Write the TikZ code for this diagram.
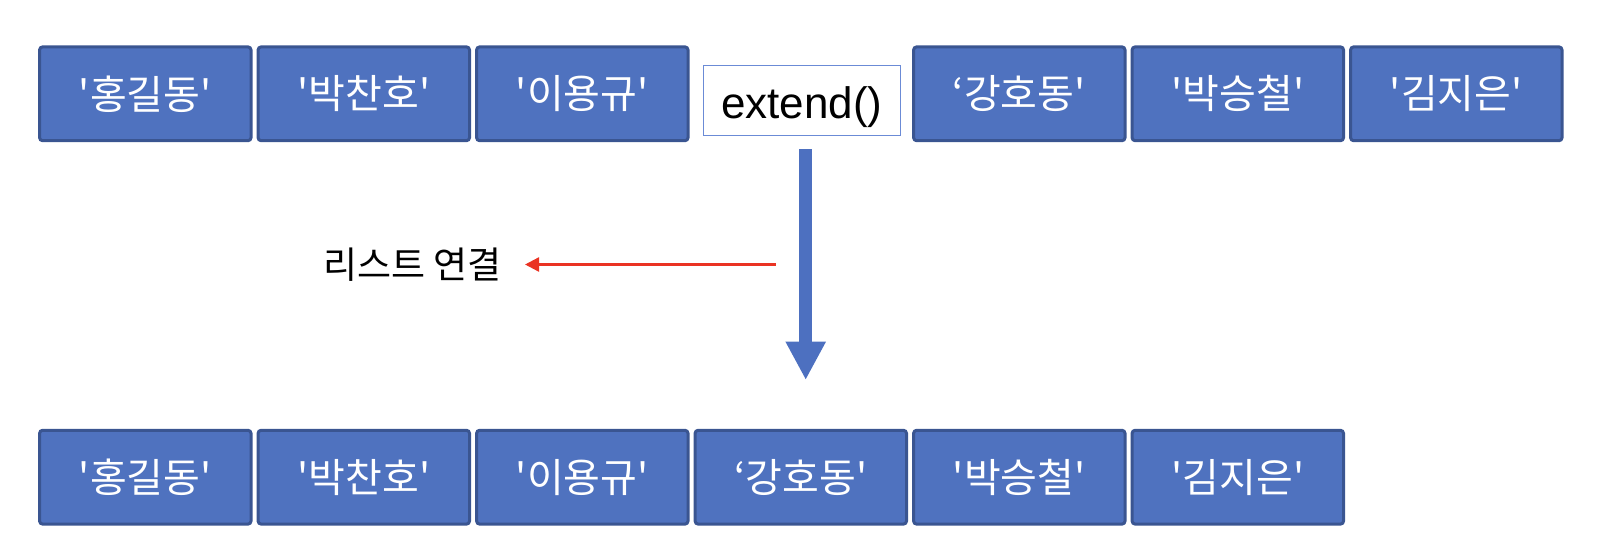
\documentclass[tikz,border=0pt]{standalone}
\usepackage{fontspec}
\setmainfont{Liberation Sans}
\newfontfamily\kr{Noto Sans CJK KR}
\usetikzlibrary{arrows.meta}
\definecolor{boxfill}{HTML}{4F72BF}
\definecolor{boxline}{HTML}{3A5591}
\definecolor{lightline}{HTML}{6B8BD6}
\definecolor{bigarrow}{HTML}{4D70C0}
\definecolor{arrowred}{HTML}{EA3323}
\begin{document}
\begin{tikzpicture}[x=0.5pt,y=-0.5pt,
  item/.style={draw=boxline, line width=1.5pt, fill=boxfill, rounded corners=1.5pt,
    minimum width=105.7pt, minimum height=46.9pt, inner sep=0pt,
    text=white, font=\kr\fontsize{20}{24}\selectfont},
  funcbox/.style={draw=lightline, line width=0.5pt, fill=white,
    minimum width=98.4pt, minimum height=35.1pt, inner sep=0pt,
    font=\fontsize{22}{26}\selectfont},
  caption/.style={font=\kr\fontsize{18.5}{22}\selectfont, text=black, inner sep=0pt},
  flow/.style={draw=bigarrow, line width=6.4pt,
    -{Triangle[length=19.2pt, width=18.8pt]}},
  link/.style={draw=arrowred, line width=1.2pt,
    -{Triangle[length=7pt, width=7pt]}}
]
\useasboundingbox (0,0) rectangle (1616,556);

% top row
\node[item] (a1) at (145.3,93.8) {'홍길동'};
\node[item] (a2) at (363.8,93.8) {'박찬호'};
\node[item] (a3) at (582.3,93.8) {'이용규'};
\node[funcbox] (ext) at (801.8,100.5) {\raisebox{-3.5pt}[\height][\depth]{extend()}};
\node[item] (b1) at (1019.3,93.8) {‘강호동'};
\node[item] (b2) at (1237.8,93.8) {'박승철'};
\node[item] (b3) at (1456.3,93.8) {'김지은'};

% bottom row
\node[item] (c1) at (145.3,477.2) {'홍길동'};
\node[item] (c2) at (363.8,477.2) {'박찬호'};
\node[item] (c3) at (582.3,477.2) {'이용규'};
\node[item] (c4) at (800.8,477.2) {‘강호동'};
\node[item] (c5) at (1019.3,477.2) {'박승철'};
\node[item] (c6) at (1237.8,477.2) {'김지은'};

% big arrow
\coordinate (flowtop) at (805.7,149.3);
\coordinate (flowtip) at (805.7,380);
\draw[flow] (flowtop) -- (flowtip);

% label and red arrow
\node[caption, anchor=east] (lbl) at (502,264.5) {리스트 연결};
\coordinate (linkstart) at (775.7,264.5);
\draw[link] (linkstart) -- ([xshift=11.5pt]lbl.east);
\end{tikzpicture}
\end{document}
